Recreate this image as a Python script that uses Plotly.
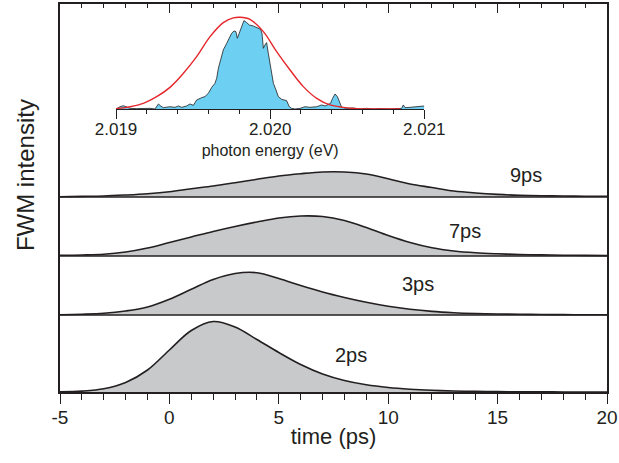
import plotly.graph_objects as go

# ---------------- data ----------------
TIME_PS = [-5, -4, -3, -2, -1, 0, 1, 2, 3, 4, 5, 6, 7, 8, 9, 10, 11, 12, 13, 14, 15, 16, 17, 18, 19, 20]

FWM_2PS = [0.2, 0.9, 3.2, 9.5, 22.0, 42.0, 61.5, 70.5, 65.0, 52.5, 39.5, 27.5, 18.0, 11.5, 7.2, 4.5, 2.8, 1.7, 1.0, 0.6, 0.35, 0.2, 0.1, 0.05, 0.0, 0.0]
FWM_3PS = [0.3, 0.8, 1.7, 4.0, 8.0, 15.7, 25.7, 35.5, 41.5, 42.3, 36.5, 29.5, 23.0, 17.5, 12.7, 8.7, 5.7, 3.6, 2.3, 1.5, 1.0, 0.7, 0.5, 0.35, 0.25, 0.2]
FWM_7PS = [0.7, 1.0, 1.7, 4.0, 8.0, 13.5, 19.0, 24.5, 29.5, 34.0, 38.0, 40.0, 39.5, 35.5, 28.5, 20.5, 13.5, 8.2, 5.0, 3.2, 2.2, 1.5, 1.1, 0.8, 0.6, 0.4]
FWM_9PS = [0.3, 0.6, 1.0, 2.0, 3.3, 5.3, 8.3, 11.0, 14.3, 17.7, 21.0, 23.3, 25.0, 25.0, 23.0, 18.3, 13.0, 9.5, 6.0, 4.0, 2.6, 1.7, 1.2, 1.0, 0.8, 0.7]

CURVE_LABELS = ["2ps", "3ps", "7ps", "9ps"]
TIME_TICKS = [-5, 0, 5, 10, 15, 20]
TIME_TICK_LABELS = ["-5", "0", "5", "10", "15", "20"]

ENERGY_EV = [2.019000, 2.019026, 2.019048, 2.019069, 2.019091, 2.019134, 2.019177, 2.019221, 2.019253, 2.019275,
             2.019290, 2.019307, 2.019350, 2.019383, 2.019404, 2.019426, 2.019458, 2.019480, 2.019502, 2.019523,
             2.019556, 2.019577, 2.019599, 2.019621, 2.019642, 2.019653, 2.019664, 2.019679, 2.019696, 2.019718,
             2.019735, 2.019750, 2.019765, 2.019778, 2.019787, 2.019800, 2.019815, 2.019830, 2.019848, 2.019865,
             2.019891, 2.019923, 2.019938, 2.019947, 2.019956, 2.019966, 2.019977, 2.019988, 2.019999, 2.020010,
             2.020021, 2.020038, 2.020053, 2.020075, 2.020107, 2.020124, 2.020139, 2.020161, 2.020194, 2.020226,
             2.020258, 2.020302, 2.020334, 2.020356, 2.020377, 2.020392, 2.020405, 2.020421, 2.020436, 2.020449,
             2.020464, 2.020496, 2.020539, 2.020583, 2.020626, 2.020669, 2.020712, 2.020777, 2.020831, 2.020853,
             2.020864, 2.020875, 2.020907, 2.020950, 2.021000]
SPECTRUM = [0.0, 0.025, 0.036, 0.025, 0.007, 0.004, 0.007, 0.007, 0.0, 0.055,
            0.033, 0.015, 0.025, 0.018, 0.033, 0.018, 0.033, 0.055, 0.040, 0.098,
            0.124, 0.135, 0.171, 0.236, 0.280, 0.335, 0.444, 0.535, 0.644, 0.716,
            0.771, 0.825, 0.851, 0.844, 0.771, 0.825, 0.898, 0.964, 0.942, 0.916,
            0.905, 0.880, 0.869, 0.825, 0.662, 0.698, 0.724, 0.607, 0.498, 0.389,
            0.280, 0.207, 0.135, 0.105, 0.091, 0.025, 0.007, 0.0, 0.007, 0.025,
            0.018, 0.025, 0.044, 0.033, 0.051, 0.062, 0.116, 0.164, 0.135, 0.069,
            0.018, 0.007, 0.011, 0.0, 0.007, 0.0, 0.004, 0.0, 0.004, 0.007,
            0.044, 0.015, 0.018, 0.025, 0.033]

FIT_ENERGY_EV = [2.019000, 2.019091, 2.019177, 2.019264, 2.019350, 2.019437, 2.019523, 2.019610, 2.019696, 2.019761,
                 2.019804, 2.019869, 2.019956, 2.020042, 2.020129, 2.020215, 2.020302, 2.020388, 2.020475, 2.020561,
                 2.020669, 2.020842]
FIT = [0.004, 0.025, 0.062, 0.135, 0.236, 0.389, 0.571, 0.789, 0.942, 0.993,
       1.000, 0.978, 0.844, 0.625, 0.425, 0.244, 0.116, 0.044, 0.018, 0.004,
       0.0, 0.0]

ENERGY_TICKS = [2.019, 2.020, 2.021]
ENERGY_TICK_LABELS = ["2.019", "2.020", "2.021"]

# ---------------- layout constants ----------------
OFFSETS = [0, 77, 136, 195]          # vertical stacking offsets of the panels
LABEL_POS = [(8.3, 37), (11.35, 108.5), (13.5, 161.5), (16.3, 217)]
FONT = "Liberation Sans, Arial, sans-serif"
INK = "#231f20"
GRAY = "#c8c9cb"
BLUE = "#6dcff2"
RED = "#e5262b"

fig = go.Figure()

series = [FWM_2PS, FWM_3PS, FWM_7PS, FWM_9PS]
for vals, off in zip(series, OFFSETS):
    fig.add_trace(go.Scatter(x=TIME_PS, y=[off] * len(TIME_PS), mode="lines",
                             line=dict(width=0, color=GRAY), hoverinfo="skip", showlegend=False))
    fig.add_trace(go.Scatter(x=TIME_PS, y=[off + v for v in vals], mode="lines",
                             line=dict(color=INK, width=1.6, shape="spline", smoothing=1.0),
                             fill="tonexty", fillcolor=GRAY, showlegend=False))

for lab, (lx, ly) in zip(CURVE_LABELS, LABEL_POS):
    fig.add_annotation(x=lx, y=ly, text=lab, showarrow=False, xref="x", yref="y",
                       font=dict(family=FONT, size=20, color=INK))

for off in OFFSETS[1:]:
    fig.add_shape(type="line", xref="paper", yref="y", x0=0, x1=1, y0=off, y1=off,
                  line=dict(color=INK, width=1.5), layer="above")

# inset
fig.add_trace(go.Scatter(x=ENERGY_EV, y=SPECTRUM, xaxis="x2", yaxis="y2", mode="lines",
                         line=dict(color=INK, width=0.8), fill="tozeroy", fillcolor=BLUE,
                         showlegend=False))
fig.add_trace(go.Scatter(x=FIT_ENERGY_EV, y=FIT, xaxis="x2", yaxis="y2", mode="lines",
                         line=dict(color=RED, width=1.4, shape="spline"), showlegend=False))

# invisible trace to activate top tick axis
fig.add_trace(go.Scatter(x=[-5, 20], y=[0, 0], xaxis="x3", yaxis="y", mode="lines",
                         line=dict(width=0), hoverinfo="skip", showlegend=False))

fig.update_layout(
    width=619, height=463,
    margin=dict(l=60, r=12, t=4, b=71, autoexpand=False),
    paper_bgcolor="white", plot_bgcolor="white",
    font=dict(family=FONT, color=INK),
    xaxis=dict(range=[-5, 20], tickvals=TIME_TICKS, ticktext=TIME_TICK_LABELS, automargin=False,
               ticks="outside", ticklen=10, tickwidth=1.3, tickcolor=INK, ticklabelstandoff=-3,
               minor=dict(dtick=1, ticks="outside", ticklen=6, tickwidth=1.3, tickcolor=INK),
               showline=True, linewidth=1.5, linecolor=INK, mirror=True,
               showgrid=False, zeroline=False,
               tickfont=dict(family=FONT, size=19, color=INK),
               title=dict(text="time (ps)", font=dict(family=FONT, size=22, color=INK), standoff=2)),
    xaxis3=dict(range=[-5, 20], overlaying="x", side="top", anchor="y", automargin=False,
                tickvals=TIME_TICKS, ticks="inside", ticklen=9, tickwidth=1.3, tickcolor=INK,
                minor=dict(dtick=1, ticks="inside", ticklen=4, tickwidth=1.3, tickcolor=INK),
                showticklabels=False, showline=False, showgrid=False, zeroline=False),
    yaxis=dict(range=[0, 388], showline=True, linewidth=1.5, linecolor=INK, mirror=True, automargin=False,
               showticklabels=False, ticks="", showgrid=False, zeroline=False),
    xaxis2=dict(domain=[0.1024, 0.666], anchor="y2", range=[2.019, 2.021], automargin=False,
                tickvals=ENERGY_TICKS, ticktext=ENERGY_TICK_LABELS, ticklabelstandoff=-4,
                ticks="outside", ticklen=9, tickwidth=1, tickcolor=INK,
                minor=dict(dtick=0.0002, ticks="outside", ticklen=4.5, tickwidth=1, tickcolor=INK),
                showline=True, linewidth=1, linecolor=INK, showgrid=False, zeroline=False,
                tickfont=dict(family=FONT, size=17, color=INK),
                title=dict(text="photon energy (eV)", font=dict(family=FONT, size=16, color=INK), standoff=6)),
    yaxis2=dict(domain=[0.7294, 0.9728], anchor="x2", range=[0, 1.03], visible=False),
)

fig.add_annotation(x=-0.064, y=0.559, xref="paper", yref="paper", text="FWM intensity",
                   textangle=-90, showarrow=False, xanchor="center", yanchor="middle",
                   font=dict(family=FONT, size=24, color=INK))

fig.write_html("out.html", config={"displayModeBar": False},
               post_script="document.body.style.margin='0px';document.body.style.overflow='hidden';")
